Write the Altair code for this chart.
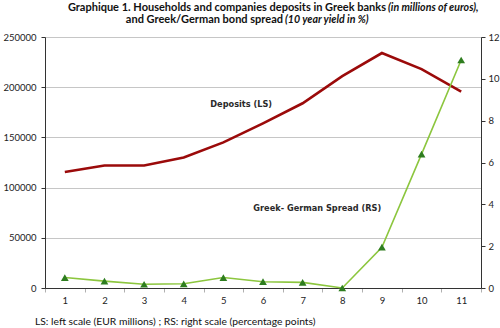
import altair as alt
import pandas as pd

periods = [str(i) for i in range(1, 12)]
deposits = [115500, 122000, 122000, 130000, 145000, 164000, 184000, 211000, 234000, 218000, 195500]
spread = [0.5, 0.33, 0.18, 0.2, 0.5, 0.3, 0.27, 0.0, 1.95, 6.4, 10.9]

left_ticks = [0, 50000, 100000, 150000, 200000, 250000]
right_ticks = [0, 2, 4, 6, 8, 10, 12]

title_1a = "Graphique 1. Households and companies deposits in Greek banks"
title_1b = "(in millions of euros),"
title_2a = "and Greek/German bond spread"
title_2b = "(10 year yield in %)"
footer = "LS: left scale (EUR millions) ; RS: right scale (percentage points)"

dep_label = ["Deposits (LS)"]
dep_label_pos = ["5"]
dep_label_val = [182000]
spr_label = ["Greek- German Spread (RS)"]
spr_label_pos = ["7"]
spr_label_val = [3.78]

df = pd.DataFrame({"period": periods, "deposits": deposits, "spread": spread})

FONT = "Lato"
LFONT = "DejaVu Sans"
W, H = 436, 251

xenc = alt.X(
    "period:O", sort=periods, title=None, bandPosition=0.5,
    scale=alt.Scale(type="band", paddingInner=0, paddingOuter=0),
    axis=alt.Axis(labelAngle=0, tickBand="extent", tickColor="#b0b0b0", tickSize=4,
                  domainColor="#333333", labelFont=FONT, labelFontSize=9.5,
                  labelColor="#222222", labelPadding=3),
)

base = alt.Chart(df)

dep_line = base.mark_line(color="#9b0a0a", strokeWidth=2.6).encode(
    x=xenc,
    y=alt.Y("deposits:Q", title=None,
            scale=alt.Scale(domain=[0, 250000], nice=False),
            axis=alt.Axis(values=left_ticks, format="d", grid=True, gridColor="#c6c6c6",
                          domainColor="#333333", tickColor="#333333", tickSize=4,
                          labelFont=FONT, labelFontSize=9.5, labelColor="#222222",
                          labelPadding=5, orient="left")),
)

dep_text = alt.Chart(pd.DataFrame({"t": dep_label, "period": dep_label_pos, "v": dep_label_val})).mark_text(
    font=LFONT, fontSize=8.2, fontWeight="bold", color="#2a2a2a", align="center", baseline="middle"
).encode(
    x=alt.X("period:O", sort=periods, bandPosition=0.95),
    y=alt.Y("v:Q"),
    text="t:N",
)

left = alt.layer(dep_line, dep_text)

spr_line = base.mark_line(color="#8cc63e", strokeWidth=1.6).encode(
    x=xenc,
    y=alt.Y("spread:Q", title=None,
            scale=alt.Scale(domain=[0, 12], nice=False),
            axis=alt.Axis(values=right_ticks, grid=False, orient="right",
                          domainColor="#333333", tickColor="#333333", tickSize=4,
                          labelFont=FONT, labelFontSize=9.5, labelColor="#222222",
                          labelPadding=3)),
)
spr_pts = base.mark_point(shape="triangle-up", filled=True, color="#2e7d1f", size=60, opacity=1).encode(
    x=xenc,
    y=alt.Y("spread:Q"),
)
spr_text = alt.Chart(pd.DataFrame({"t": spr_label, "period": spr_label_pos, "v": spr_label_val})).mark_text(
    font=LFONT, fontSize=8.2, fontWeight="bold", color="#2a2a2a", align="center", baseline="middle"
).encode(
    x=alt.X("period:O", sort=periods, bandPosition=0.87),
    y=alt.Y("v:Q"),
    text="t:N",
)
right = alt.layer(spr_line, spr_pts, spr_text)

one = pd.DataFrame({"a": [0]})


def txt(s, x, y, align, italic=False, bold=True, size=11.0):
    kw = dict(font=FONT, fontSize=size, align=align, baseline="alphabetic", color="#111111",
              text=s, fontWeight="bold" if bold else "normal")
    if italic:
        kw["fontStyle"] = "italic"
    return alt.Chart(one).mark_text(**kw).encode(x=alt.value(x), y=alt.value(y))


titles = alt.layer(
    txt(title_1a, 341, -26, "right", size=11.0),
    txt(title_1b, 343, -26, "left", italic=True, size=10.6),
    txt(title_2a, 238, -14, "right", size=11.0),
    txt(title_2b, 240, -14, "left", italic=True, size=10.6),
    txt(footer, -10, 288, "left", bold=False, size=10.3),
)

chart = alt.layer(left, right, titles).resolve_scale(y="independent").properties(
    width=W, height=H,
    autosize=alt.AutoSizeParams(type="none"),
    padding={"left": 45, "top": 37, "right": 19, "bottom": 40},
).configure_view(fill="#e4e4e4", stroke="transparent").configure(background="white")

chart.save("out.html", embed_options={"renderer": "svg", "actions": False})
